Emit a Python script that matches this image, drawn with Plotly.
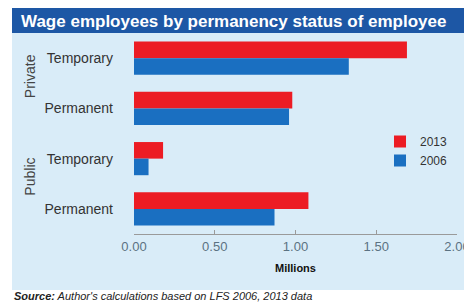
import plotly.graph_objects as go

# Data (millions of wage employees)
groups = ["Private", "Private", "Public", "Public"]
categories = ["Temporary", "Permanent", "Temporary", "Permanent"]
years = ["2013", "2006"]
values_2013 = [1.69, 0.98, 0.18, 1.08]
values_2006 = [1.33, 0.96, 0.09, 0.87]
x_ticks = [0.0, 0.5, 1.0, 1.5, 2.0]
x_tick_labels = ["0.00", "0.50", "1.00", "1.50", "2.00"]

title_text = "Wage employees by permanency status of employee"
source_text = "<b><i>Source:</i></b><i> Author's calculations based on LFS 2006, 2013 data</i>"

RED = "#ec1c24"
BLUE = "#1a6fc1"
BG = "#d9ecf8"
TITLEBG = "#1d57a5"
OFF = 8  # page body margin offset
W, H = 472 - OFF, 304 - OFF

keys = [f"{g} {c}" for g, c in zip(groups, categories)]

fig = go.Figure()
fig.add_trace(go.Bar(y=keys, x=values_2013, orientation="h", name=years[0],
                     marker=dict(color=RED, line=dict(width=0)), legendgroup="a"))
fig.add_trace(go.Bar(y=keys, x=values_2006, orientation="h", name=years[1],
                     marker=dict(color=BLUE, line=dict(width=0)), legendgroup="b"))

PX0, PX1, PY0, PY1 = 134 - OFF, 457 - OFF, 33 - OFF, 234 - OFF  # plot area in figure pixels
def px(x): return (x - OFF - PX0) / (PX1 - PX0)
def py(y): return (PY1 - (y - OFF)) / (PY1 - PY0)

# Background panels
fig.add_shape(type="rect", xref="paper", yref="paper",
              x0=px(12), x1=px(480), y0=py(290), y1=py(33),
              fillcolor=BG, line=dict(width=0), layer="below")
fig.add_shape(type="rect", xref="paper", yref="paper",
              x0=px(12), x1=px(480), y0=py(33), y1=py(8),
              fillcolor=TITLEBG, line=dict(width=0), layer="below")

fig.add_annotation(text=f"<b>{title_text}</b>", xref="paper", yref="paper",
                   x=px(19), y=py(21), xanchor="left", yanchor="middle",
                   showarrow=False, font=dict(family="Liberation Sans, Arial", size=17, color="white"))

# Group labels
for gi in (0, 2):
    fig.add_annotation(text=groups[gi], xref="paper", y=keys[gi], yref="y", x=px(20),
                       showarrow=False, textangle=-90, yshift=-18,
                       font=dict(family="Liberation Sans, Arial", size=14, color="#444444"))

fig.add_annotation(text=source_text, xref="paper", yref="paper",
                   x=px(12), y=py(296), xanchor="left", yanchor="middle",
                   showarrow=False, font=dict(family="Liberation Sans, Arial", size=11, color="#222222"))

fig.update_layout(
    width=W, height=H,
    margin=dict(l=PX0, r=W - PX1, t=PY0, b=H - PY1, pad=0, autoexpand=False),
    paper_bgcolor="white", plot_bgcolor="rgba(0,0,0,0)",
    barmode="group", bargap=0.34, bargroupgap=0.0,
    showlegend=True,
    legend=dict(x=px(380), y=py(127), xanchor="left", yanchor="top",
                bgcolor="rgba(0,0,0,0)", traceorder="normal", tracegroupgap=16,
                font=dict(family="Liberation Sans, Arial", size=12, color="#333333"),
                itemwidth=30),
    font=dict(family="Liberation Sans, Arial"),
)
fig.update_xaxes(range=[0, 2.0], tickvals=x_ticks, ticktext=x_tick_labels, automargin=False,
                 ticklabeloverflow="allow",
                 showgrid=False, zeroline=False, showline=True, linecolor="#9a9a9a", linewidth=1,
                 ticks="inside", ticklen=4, tickcolor="#9a9a9a",
                 tickfont=dict(size=13, color="#5b7282"),
                 title=dict(text="<b>Millions</b>", font=dict(size=11, color="#111111"), standoff=11))
fig.update_yaxes(categoryorder="array", categoryarray=keys, range=[3.5, -0.5], automargin=False,
                 tickvals=keys, ticktext=categories, showgrid=False, showline=False,
                 ticks="", ticklabelstandoff=20,
                 tickfont=dict(size=14, color="#333333"))

fig.write_html("out.html")
